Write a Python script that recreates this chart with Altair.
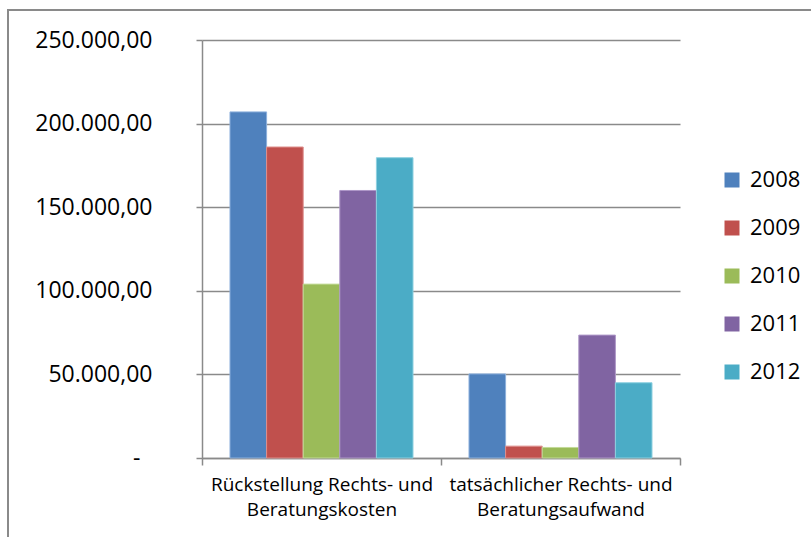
import altair as alt
import pandas as pd

# Cost categories (the line break splits each axis label over two lines)
categories = [
    "Rückstellung Rechts- und\nBeratungskosten",
    "tatsächlicher Rechts- und\nBeratungsaufwand",
]
years = ["2008", "2009", "2010", "2011", "2012"]

# Amounts in EUR per year, one value per category
values_2008 = [207000, 50300]
values_2009 = [186000, 7100]
values_2010 = [104000, 6300]
values_2011 = [160000, 73500]
values_2012 = [179600, 45000]

bar_colors = ["#4F81BD", "#C0504D", "#9BBB59", "#8064A2", "#4BACC6"]
edge_colors = ["#8DB0DC", "#DE8F8D", "#C3DA98", "#AE97C8", "#8DD0E0"]
y_ticks = [0, 50000, 100000, 150000, 200000, 250000]

series = [values_2008, values_2009, values_2010, values_2011, values_2012]
rows = []
for year, vals in zip(years, series):
    for cat, v in zip(categories, vals):
        rows.append({"Kategorie": cat, "Jahr": year, "Betrag": v})
df = pd.DataFrame(rows)

GRAY = "#8A8A8A"
FONT = "Open Sans"

bars = alt.Chart(df).mark_bar(strokeWidth=1).encode(
    x=alt.X(
        "Kategorie:N",
        scale=alt.Scale(domain=categories, paddingInner=0, paddingOuter=0),
        sort=categories,
        axis=alt.Axis(
            orient="bottom", title=None, grid=False,
            ticks=True, tickBand="extent", tickSize=7, tickColor=GRAY, tickWidth=1.5,
            domain=True, domainColor=GRAY, domainWidth=1.5,
            labelAngle=0, labelFont=FONT, labelFontSize=19, labelColor="black",
            labelLineHeight=25, labelPadding=10, labelLimit=0,
            labelExpr="split(datum.label, '\\n')",
        ),
    ),
    # the gap around each group of bars comes from the outer padding here
    xOffset=alt.XOffset("Jahr:N", sort=years,
                        scale=alt.Scale(paddingInner=0, paddingOuter=0.765)),
    y=alt.Y(
        "Betrag:Q",
        scale=alt.Scale(domain=[0, 250000], nice=False),
        axis=alt.Axis(
            title=None, values=y_ticks, grid=True,
            gridColor=GRAY, gridWidth=1.5,
            domainColor=GRAY, domainWidth=1.5,
            tickColor=GRAY, tickWidth=1.5, tickSize=6,
            labelFont=FONT, labelFontSize=23, labelColor="black",
            labelPadding={"condition": {"test": "datum.value == 0", "value": 56}, "value": 44},
            labelExpr="datum.value == 0 ? '-' : format(datum.value / 1000, 'd') + '.000,00'",
        ),
    ),
    color=alt.Color(
        "Jahr:N",
        scale=alt.Scale(domain=years, range=bar_colors),
        legend=alt.Legend(
            title=None, orient="none", legendX=519, legendY=129,
            symbolType="square", symbolSize=225, symbolStrokeWidth=0,
            labelFont=FONT, labelFontSize=22, labelColor="black",
            labelOffset=7, rowPadding=26,
        ),
    ),
    stroke=alt.Stroke("Jahr:N", scale=alt.Scale(domain=years, range=edge_colors), legend=None),
)

# Outer frame around the chart
frame = alt.Chart(pd.DataFrame({"f": [0]})).mark_rect(
    filled=False, stroke=GRAY, strokeWidth=2
).encode(
    x=alt.value(-194), x2=alt.value(700),
    y=alt.value(-30), y2=alt.value(600),
)

chart = (
    alt.layer(frame, bars)
    .properties(
        width=478, height=418,
        padding={"left": 202, "top": 40, "right": 131, "bottom": 79},
        autosize=alt.AutoSizeParams(type="none"),
        background="white",
    )
    .configure_view(stroke=None)
)

chart.save("out.html", embed_options={"renderer": "svg", "actions": False})
